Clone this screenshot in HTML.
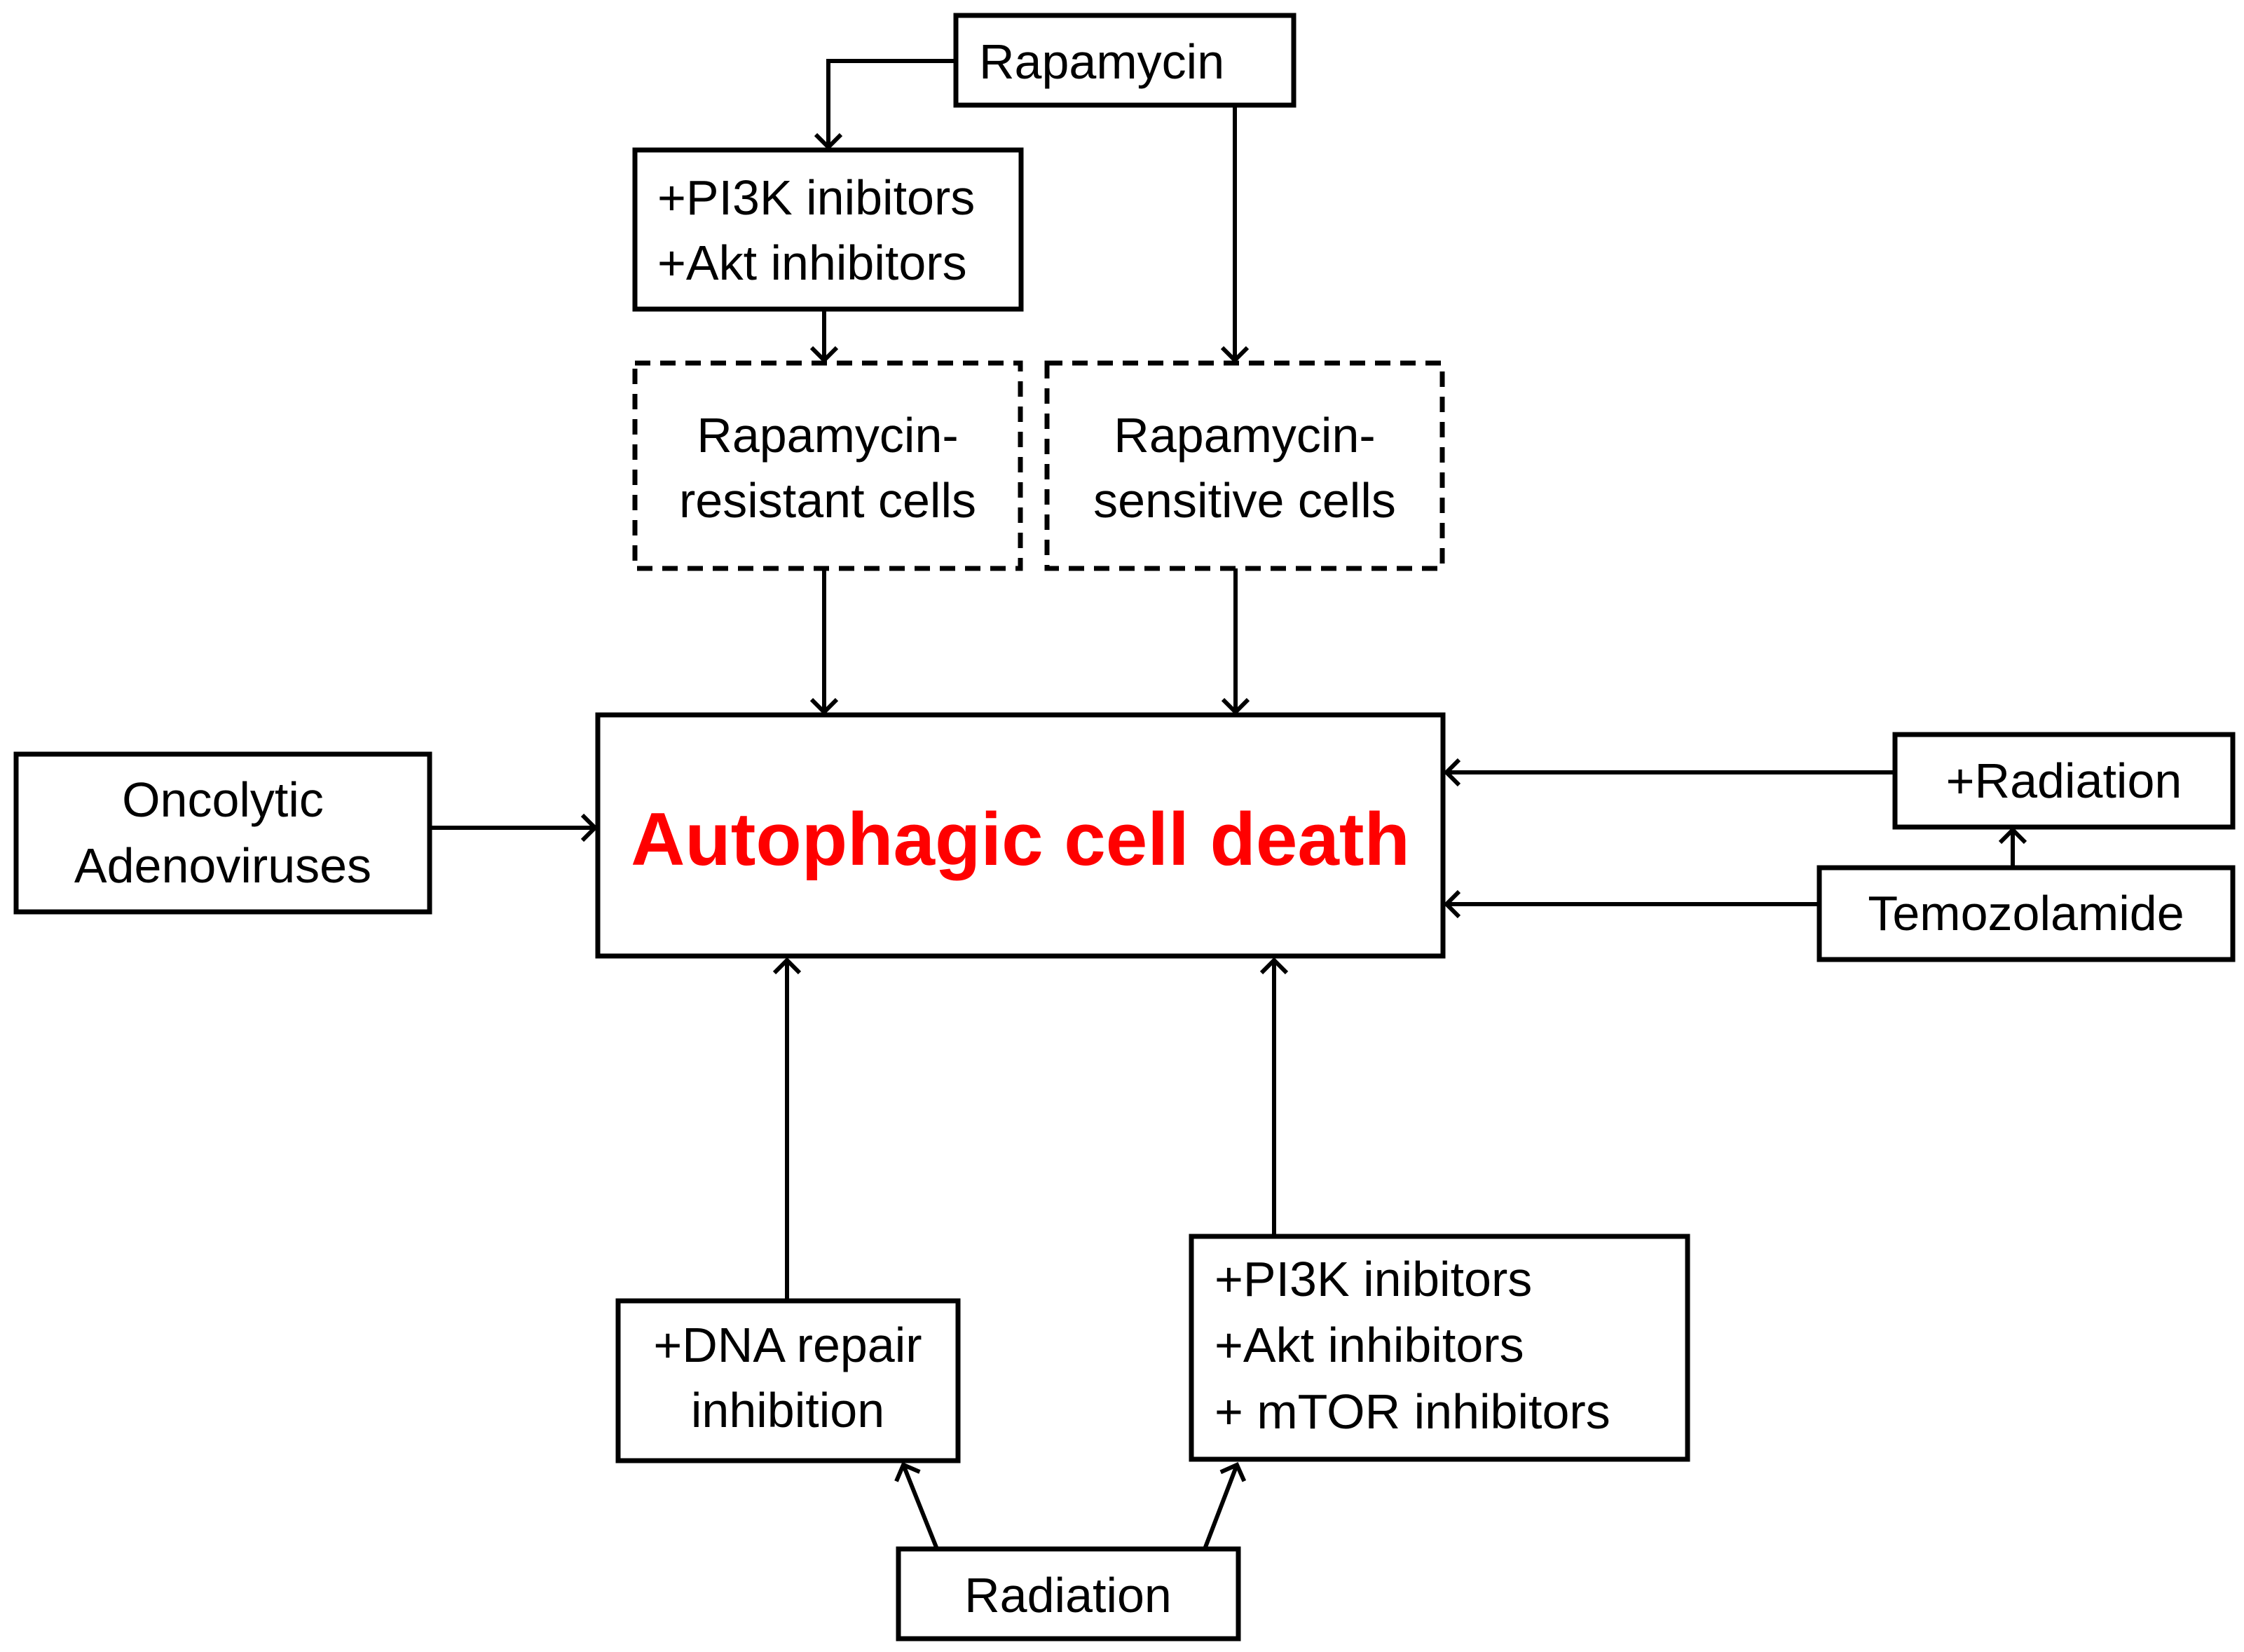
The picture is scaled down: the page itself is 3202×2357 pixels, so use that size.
<!DOCTYPE html>
<html><head><meta charset="utf-8"><style>
html,body{margin:0;padding:0;background:#fff;}
svg{display:block}
text{font-family:"Liberation Sans",sans-serif;font-size:70px;fill:#000}
</style></head><body>
<svg width="3202" height="2357" viewBox="0 0 3202 2357" xmlns="http://www.w3.org/2000/svg">
<defs>
<marker id="a" viewBox="0 0 12 12" refX="6" refY="6" markerWidth="12" markerHeight="12" orient="auto" markerUnits="userSpaceOnUse" style="overflow:visible">
<path d="M-18,-18 L0,0 L-18,18" transform="translate(6,6)" fill="none" stroke="#000" stroke-width="6"/>
</marker>
</defs>
<g fill="none" stroke="#000" stroke-width="7">
<rect x="1364" y="22" width="482" height="128"/>
<rect x="906" y="214" width="551" height="227"/>
<rect x="906" y="518" width="550" height="293" stroke-dasharray="22,14"/>
<rect x="1494" y="518" width="564" height="293" stroke-dasharray="22,14"/>
<rect x="853" y="1020" width="1206" height="344"/>
<rect x="23" y="1076" width="590" height="225"/>
<rect x="2704" y="1048" width="482" height="132"/>
<rect x="2596" y="1238" width="590" height="131"/>
<rect x="882" y="1856" width="485" height="228"/>
<rect x="1700" y="1764" width="708" height="318"/>
<rect x="1282" y="2210" width="485" height="128"/>
</g>
<g fill="none" stroke="#000" stroke-width="6" marker-end="url(#a)">
<polyline points="1364,87 1182,87 1182,210"/>
<line x1="1176" y1="441" x2="1176" y2="514"/>
<line x1="1762" y1="150" x2="1762" y2="514"/>
<line x1="1176" y1="811" x2="1176" y2="1016"/>
<line x1="1763" y1="811" x2="1763" y2="1016"/>
<line x1="613" y1="1181" x2="849" y2="1181"/>
<line x1="2704" y1="1102" x2="2064" y2="1102"/>
<line x1="2596" y1="1290" x2="2064" y2="1290"/>
<line x1="2872" y1="1238" x2="2872" y2="1184"/>
<line x1="1123" y1="1856" x2="1123" y2="1370"/>
<line x1="1818" y1="1764" x2="1818" y2="1370"/>
<line x1="1337" y1="2210" x2="1289" y2="2090"/>
<line x1="1719" y1="2210" x2="1765" y2="2090"/>
</g>
<text x="1397" y="112">Rapamycin</text>
<text x="938" y="306">+PI3K inibitors</text>
<text x="938" y="399">+Akt inhibitors</text>
<g text-anchor="middle">
<text x="1181" y="645">Rapamycin-</text>
<text x="1181" y="738">resistant cells</text>
<text x="1776" y="645">Rapamycin-</text>
<text x="1776" y="738">sensitive cells</text>
<text x="318" y="1165">Oncolytic</text>
<text x="318" y="1259">Adenoviruses</text>
<text x="2945" y="1138">+Radiation</text>
<text x="2891" y="1327">Temozolamide</text>
<text x="1124" y="1943">+DNA repair</text>
<text x="1124" y="2036">inhibition</text>
<text x="1524" y="2300">Radiation</text>
<text x="1456" y="1234" style="font-size:107px;font-weight:bold;fill:#ff0000">Autophagic cell death</text>
</g>
<text x="1733" y="1849">+PI3K inibitors</text>
<text x="1733" y="1943">+Akt inhibitors</text>
<text x="1733" y="2038">+ mTOR inhibitors</text>
</svg>
</body></html>
